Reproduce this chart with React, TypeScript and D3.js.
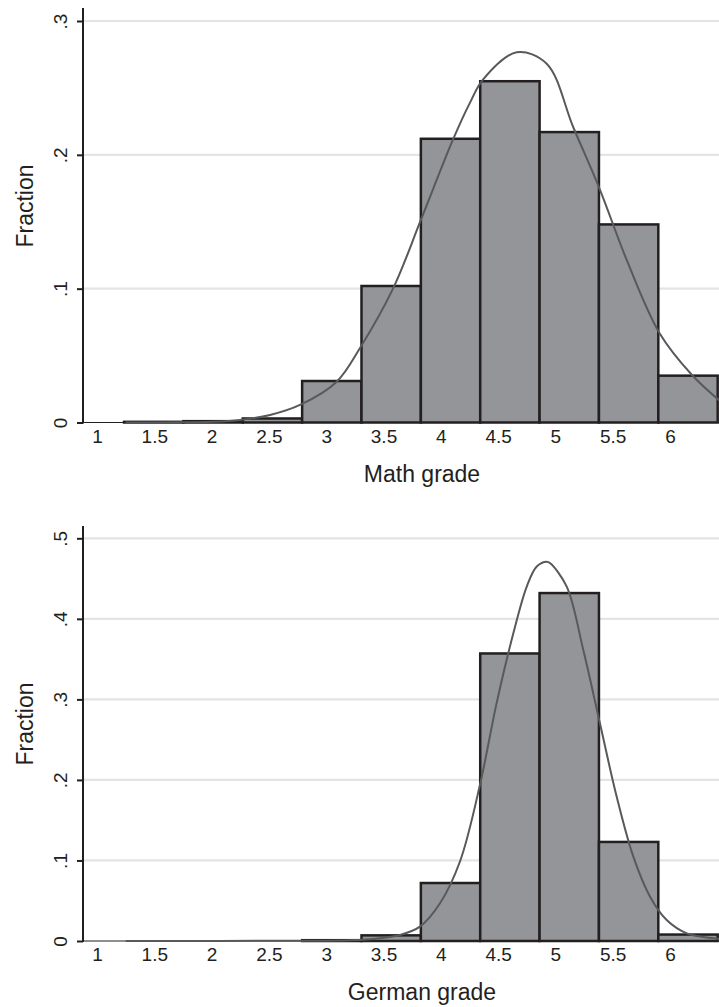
import React, { useEffect, useRef } from 'react';
import * as d3 from 'd3';

// bin edges (grade) shared by both histograms
const binEdges = [1.236, 1.754, 2.272, 2.79, 3.308, 3.826, 4.344, 4.862, 5.38, 5.898, 6.416];

const mathFraction = [0.0005, 0.001, 0.003, 0.031, 0.102, 0.212, 0.255, 0.217, 0.148, 0.035];
const germanFraction = [0, 0, 0, 0.001, 0.007, 0.072, 0.357, 0.432, 0.123, 0.008];

// normal density overlay
const mathCurveX = [1.25, 1.75, 2.0, 2.248, 2.51, 2.771, 3.092, 3.295, 3.583, 3.827, 4.106, 4.255, 4.368, 4.662, 4.924, 5.156, 5.389, 5.622, 5.909, 6.192, 6.44];
const mathCurveY = [0, 0.0001, 0.0005, 0.0019, 0.0056, 0.0131, 0.0305, 0.0557, 0.1, 0.1515, 0.2113, 0.239, 0.2562, 0.2766, 0.2681, 0.2206, 0.1739, 0.1215, 0.0667, 0.0355, 0.0158];

const germanCurveX = [1.25, 2.8, 3.2, 3.469, 3.644, 3.818, 3.993, 4.168, 4.342, 4.488, 4.633, 4.75, 4.837, 4.924, 4.955, 5.099, 5.243, 5.389, 5.535, 5.68, 5.826, 5.971, 6.146, 6.378, 6.44];
const germanCurveY = [0, 0.0003, 0.0008, 0.0034, 0.0075, 0.0178, 0.0468, 0.099, 0.194, 0.296, 0.382, 0.44, 0.465, 0.471, 0.469, 0.44, 0.3615, 0.27, 0.179, 0.1047, 0.055, 0.026, 0.0095, 0.0034, 0.0025];

const xTicks = [1, 1.5, 2, 2.5, 3, 3.5, 4, 4.5, 5, 5.5, 6];
const mathYTicks = [0, 0.1, 0.2, 0.3];
const germanYTicks = [0, 0.1, 0.2, 0.3, 0.4, 0.5];

const FONT = '"Liberation Sans", Arial, Helvetica, sans-serif';

const App: React.FC = () => {
  const ref = useRef<SVGSVGElement>(null);

  useEffect(() => {
    if (!ref.current) return;
    const W = 719;
    const H = 1007;
    const svg = d3.select(ref.current).attr('width', W).attr('height', H);
    svg.selectAll('*').remove();

    svg.append('rect').attr('width', W).attr('height', H).attr('fill', '#ffffff');

    const axisX = 83;
    const x = d3.scaleLinear().domain([1, 6]).range([97, 670]);

    const panels = [
      {
        values: mathFraction, cx: mathCurveX, cy: mathCurveY, yTicks: mathYTicks,
        yMax: 0.3, top: 8, yTopPx: 21, y0: 422.5, label: 'Math grade', labelY: 206,
      },
      {
        values: germanFraction, cx: germanCurveX, cy: germanCurveY, yTicks: germanYTicks,
        yMax: 0.5, top: 526, yTopPx: 538.3, y0: 941, label: 'German grade', labelY: 724,
      },
    ];

    panels.forEach(p => {
      const y = d3.scaleLinear().domain([0, p.yMax]).range([p.y0, p.yTopPx]);
      const g = svg.append('g');

      // gridlines
      g.selectAll('.grid')
        .data(p.yTicks.filter(t => t > 0))
        .enter().append('line')
        .attr('x1', axisX + 1)
        .attr('x2', W)
        .attr('y1', d => y(d))
        .attr('y2', d => y(d))
        .attr('stroke', '#e4e4e4')
        .attr('stroke-width', 2.2);

      // baseline
      g.append('line')
        .attr('x1', axisX)
        .attr('x2', W)
        .attr('y1', y(0))
        .attr('y2', y(0))
        .attr('stroke', '#231f20')
        .attr('stroke-width', 1.2);

      // bars
      g.selectAll('.bar')
        .data(p.values)
        .enter().append('rect')
        .attr('x', (d, i) => x(binEdges[i]))
        .attr('y', d => y(d))
        .attr('width', (d, i) => x(binEdges[i + 1]) - x(binEdges[i]))
        .attr('height', d => y(0) - y(d))
        .attr('fill', '#939598')
        .attr('stroke', '#231f20')
        .attr('stroke-width', 2.5);

      // normal curve
      const pts = p.cx.map((v, i) => [v, p.cy[i]] as [number, number]);
      const line = d3.line<[number, number]>()
        .x(d => x(d[0]))
        .y(d => y(d[1]))
        .curve(d3.curveCatmullRom.alpha(0.5));
      g.append('path')
        .attr('d', line(pts))
        .attr('fill', 'none')
        .attr('stroke', '#58595b')
        .attr('stroke-width', 2);

      // y axis
      g.append('line')
        .attr('x1', axisX)
        .attr('x2', axisX)
        .attr('y1', p.top)
        .attr('y2', p.y0 + 1)
        .attr('stroke', '#231f20')
        .attr('stroke-width', 2);

      const yAxis = g.append('g')
        .attr('transform', `translate(${axisX},0)`)
        .call(d3.axisLeft(y).tickValues(p.yTicks).tickSize(6).tickFormat(() => ''));
      yAxis.select('.domain').remove();
      yAxis.selectAll('line').attr('stroke', '#231f20').attr('stroke-width', 2);
      yAxis.selectAll('.tick text').remove();
      yAxis.selectAll<SVGGElement, number>('.tick')
        .append('text')
        .attr('transform', 'translate(-16,0) rotate(-90)')
        .attr('text-anchor', 'middle')
        .attr('fill', '#231f20')
        .attr('font-family', FONT)
        .attr('font-size', 19)
        .text(d => (d === 0 ? '0' : d3.format('.1f')(d).replace(/^0/, '')));

      // x tick labels
      const xAxis = g.append('g')
        .attr('transform', `translate(0,${p.y0})`)
        .call(d3.axisBottom(x).tickValues(xTicks).tickSize(0).tickPadding(0).tickFormat(d3.format('')));
      xAxis.select('.domain').remove();
      xAxis.selectAll('.tick text')
        .attr('y', 20)
        .attr('dy', null)
        .attr('fill', '#231f20')
        .attr('font-family', FONT)
        .attr('font-size', 19);

      // axis titles
      g.append('text')
        .attr('x', 422)
        .attr('y', p.y0 + 59)
        .attr('text-anchor', 'middle')
        .attr('fill', '#231f20')
        .attr('font-family', FONT)
        .attr('font-size', 23)
        .text(p.label);

      g.append('text')
        .attr('transform', `translate(33,${p.labelY}) rotate(-90)`)
        .attr('text-anchor', 'middle')
        .attr('fill', '#231f20')
        .attr('font-family', FONT)
        .attr('font-size', 23)
        .text('Fraction');
    });
  }, []);

  return (
    <div style={{ position: 'absolute', left: 0, top: 0 }}>
      <svg ref={ref} style={{ display: 'block' }}></svg>
    </div>
  );
};

export default App;
